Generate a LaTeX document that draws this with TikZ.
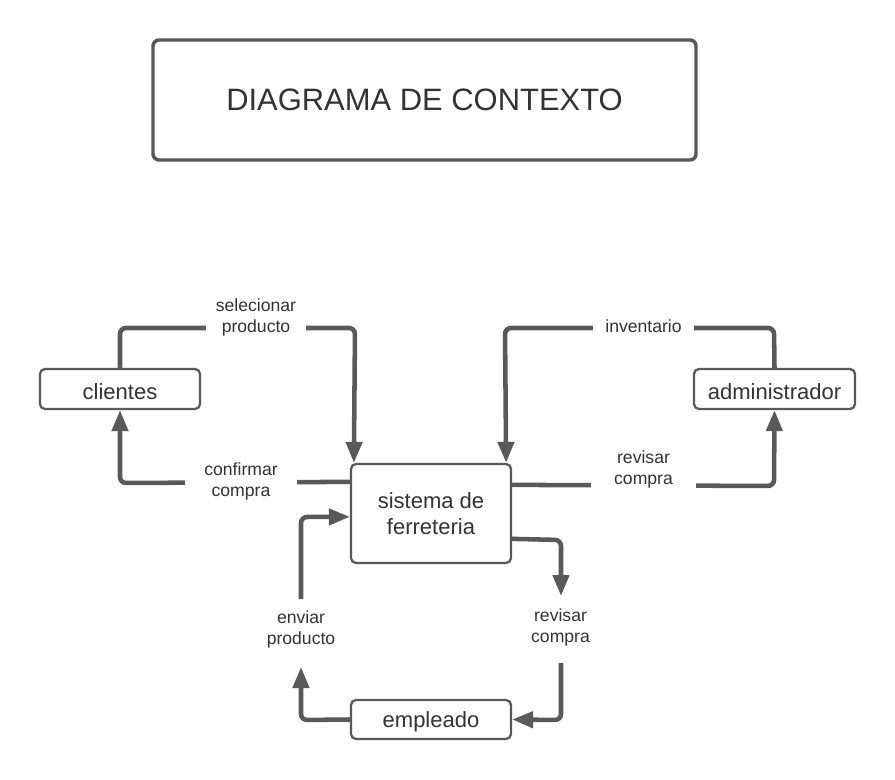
\documentclass[tikz,border=0pt]{standalone}
\usepackage{fontspec}
\setmainfont{Liberation Sans}
\usetikzlibrary{arrows.meta}
\definecolor{linec}{HTML}{595959}
\definecolor{textc}{HTML}{333333}
\newcommand{\lowertext}[1]{\raisebox{-2pt}[\height][\depth]{#1}}
\tikzset{
  boxnode/.style={draw=linec, line width=1.7pt, rounded corners=3.75pt, fill=white,
    text=textc, font=\fontsize{16.5pt}{19pt}\selectfont, align=center, inner sep=0pt},
  titlebox/.style={draw=linec, line width=2.6pt, rounded corners=4.5pt,
    text=textc, font=\fontsize{23.2pt}{27pt}\selectfont, inner sep=0pt,
    minimum width=407.25pt, minimum height=90pt},
  flow/.style={draw=linec, line width=3.4pt, rounded corners=4.5pt,
    -{Triangle[length=15.75pt,width=12pt]}},
  lbl/.style={fill=white, text=textc, font=\fontsize{13.2pt}{15.8pt}\selectfont,
    align=center, inner ysep=2pt},
  lblplain/.style={text=textc, font=\fontsize{13.2pt}{15.8pt}\selectfont,
    align=center, inner sep=0pt},
}
\begin{document}
\begin{tikzpicture}[x=0.75pt,y=-0.75pt]
\useasboundingbox (0,0) rectangle (895,780);

% title
\node[titlebox] (title) at (424.5,100) {DIAGRAMA DE CONTEXTO};

% entities
\node[boxnode, minimum width=120pt, minimum height=30pt] (clientes) at (120,389) {\lowertext{clientes}};
\node[boxnode, minimum width=120.75pt, minimum height=30pt] (admin) at (774.5,389) {\lowertext{administrador}};
\node[boxnode, minimum width=120pt, minimum height=74.25pt] (sistema) at (431,513.5) {sistema de\\ferreteria};
\node[boxnode, minimum width=120pt, minimum height=29.25pt] (empleado) at (431,719.5) {\lowertext{empleado}};

% port coordinates
\coordinate (sTopL) at ([xshift=3pt]sistema.north west);
\coordinate (sTopR) at ([xshift=-4.5pt]sistema.north east);
\coordinate (sLeft1) at ([yshift=-14.25pt]sistema.north west);
\coordinate (sLeft2) at ([yshift=-40.5pt]sistema.north west);
\coordinate (sRight1) at ([yshift=-16.5pt]sistema.north east);
\coordinate (sRight2) at ([yshift=-57pt]sistema.north east);

% selecionar producto
\draw[flow] (clientes.north) -- (120,328) -- (355,328) -- (sTopL);
\node[lbl, inner xsep=7.5pt] (l1) at (256,317) {selecionar\\producto};

% confirmar compra
\draw[flow] (sLeft1) -- (120,483) -- (clientes.south);
\node[lbl, inner xsep=14.6pt] (l2) at (241,481) {confirmar\\compra};

% inventario
\draw[flow] (admin.north) -- (774,328) -- (505,328) -- (sTopR);
\node[lbl, inner xsep=9.4pt] (l3) at (643.5,326) {inventario};

% revisar compra (right)
\draw[flow] (sRight1) -- (774,486) -- (admin.south);
\node[lbl, inner xsep=17pt] (l4) at (643.5,469) {revisar\\compra};

% revisar compra (bottom)
\node[lblplain] (l5) at (560.5,627.5) {revisar\\compra};
\coordinate (l5top) at (561,596);
\coordinate (l5bot) at (561,663);
\draw[flow] (sRight2) -- (561,540) -- (l5top);
\draw[flow] (l5bot) -- (561,720) -- (empleado.east);

% enviar producto
\node[lblplain] (l6) at (301,629.5) {enviar\\producto};
\coordinate (l6bot) at (301,667);
\coordinate (l6top) at (301,599);
\draw[flow] (empleado.west) -- (301,720) -- (l6bot);
\draw[flow] (l6top) -- (301,517) -- (sLeft2);
\end{tikzpicture}
\end{document}
